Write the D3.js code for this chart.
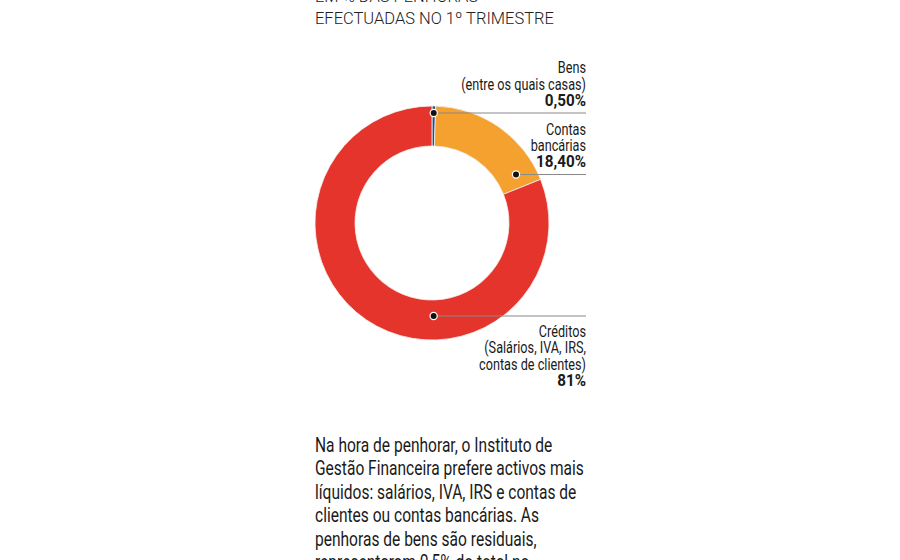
<!DOCTYPE html>
<html>
<head>
<meta charset="utf-8">
<script src="https://cdn.jsdelivr.net/npm/d3@7"></script>
<style>
  html, body { margin: 0; padding: 0; background: #fff; }
  svg { display: block; }
  text { font-family: Roboto, "Noto Sans", sans-serif; }
</style>
</head>
<body>
<svg id="chart" width="900" height="560"></svg>
<script>
// ---- data ----
const categories = ["Bens", "Contas bancárias", "Créditos"];
const values = [0.5, 18.4, 81];
const valueLabels = ["0,50%", "18,40%", "81%"];
const labelLines = [
  ["Bens", "(entre os quais casas)"],
  ["Contas", "bancárias"],
  ["Créditos", "(Salários, IVA, IRS,", "contas de clientes)"]
];
const titleLines = ["EM % DAS PENHORAS", "EFECTUADAS NO 1º TRIMESTRE"];
const paragraphLines = [
  "Na hora de penhorar, o Instituto de",
  "Gestão Financeira prefere activos mais",
  "líquidos: salários, IVA, IRS e contas de",
  "clientes ou contas bancárias. As",
  "penhoras de bens são residuais,",
  "representaram 0,5% do total no"
];

// ---- layout ----
const colors = d3.scaleOrdinal().domain(categories).range(["#2b4a8b", "#f4a12f", "#e4342b"]);
const cx = 432, cy = 223, rOuter = 117, rInner = 77;
const leftX = 315, labelRight = 586;
const anchors = [
  { angle: 0.9, r: 110, below: false },
  { angle: 60, r: 97, below: false },
  { angle: 179, r: 93, below: true }
];

const svg = d3.select("#chart");
svg.append("rect").attr("width", 900).attr("height", 560).attr("fill", "#fff");

function squeeze(sel, k, x0) {
  sel.attr("transform", `translate(${x0},0) scale(${k},1) translate(${-x0},0)`);
}

// title
const title = svg.append("g");
const titleNodes = titleLines.map((t, i) =>
  title.append("text").attr("x", leftX).attr("y", 2 + i * 22)
    .attr("font-size", 17).attr("fill", "#222").attr("font-weight", 300).text(t).node());
squeeze(title, 239 / titleNodes[1].getComputedTextLength(), leftX);

// donut
const pie = d3.pie().sort(null).value(d => d);
const arcs = pie(values);
const arc = d3.arc().innerRadius(rInner).outerRadius(rOuter);
const g = svg.append("g").attr("transform", `translate(${cx},${cy})`);
g.selectAll("path").data(arcs).join("path")
  .attr("d", arc)
  .attr("fill", (d, i) => colors(categories[i]))
  .attr("stroke", "#f3f0ec").attr("stroke-width", 0.8);

// annotations
const pointArc = d3.arc();
const regularTexts = [], boldTexts = [];
let refRegular = null, refBold = null;
anchors.forEach((a, i) => {
  const ang = a.angle * Math.PI / 180;
  const [px, py] = pointArc.innerRadius(a.r).outerRadius(a.r).startAngle(ang).endAngle(ang).centroid();
  const x = cx + px, y = cy + py;
  svg.append("line").attr("x1", x).attr("y1", y).attr("x2", labelRight).attr("y2", y)
    .attr("stroke", "#8a8a8a").attr("stroke-width", 1.2);
  svg.append("circle").attr("cx", x).attr("cy", y).attr("r", 3.6)
    .attr("fill", "#111").attr("stroke", "#fff").attr("stroke-width", 1.2);
  const lines = labelLines[i].concat([valueLabels[i]]);
  const lh = 16.3;
  const firstBase = a.below ? y + 21 : y - 7 - (lines.length - 1) * lh;
  lines.forEach((t, j) => {
    const bold = j === lines.length - 1;
    const s = svg.append("text").attr("x", labelRight).attr("y", firstBase + j * lh)
      .attr("text-anchor", "end").attr("font-size", 16)
      .attr("font-weight", bold ? 700 : 400)
      .attr("fill", "#1a1a1a").text(t);
    (bold ? boldTexts : regularTexts).push(s);
    if (i === 0 && j === 1) refRegular = s.node();
    if (i === 1 && bold) refBold = s.node();
  });
});
const kReg = 125 / refRegular.getComputedTextLength();
const kBold = 50 / refBold.getComputedTextLength();
regularTexts.forEach(s => squeeze(s, kReg, labelRight));
boldTexts.forEach(s => squeeze(s, kBold, labelRight));

// paragraph
const para = svg.append("g");
const paraNodes = paragraphLines.map((t, i) =>
  para.append("text").attr("x", leftX).attr("y", 452 + i * 23.4)
    .attr("font-size", 21).attr("fill", "#1a1a1a").text(t).node());
squeeze(para, 269 / paraNodes[1].getComputedTextLength(), leftX);
</script>
</body>
</html>
